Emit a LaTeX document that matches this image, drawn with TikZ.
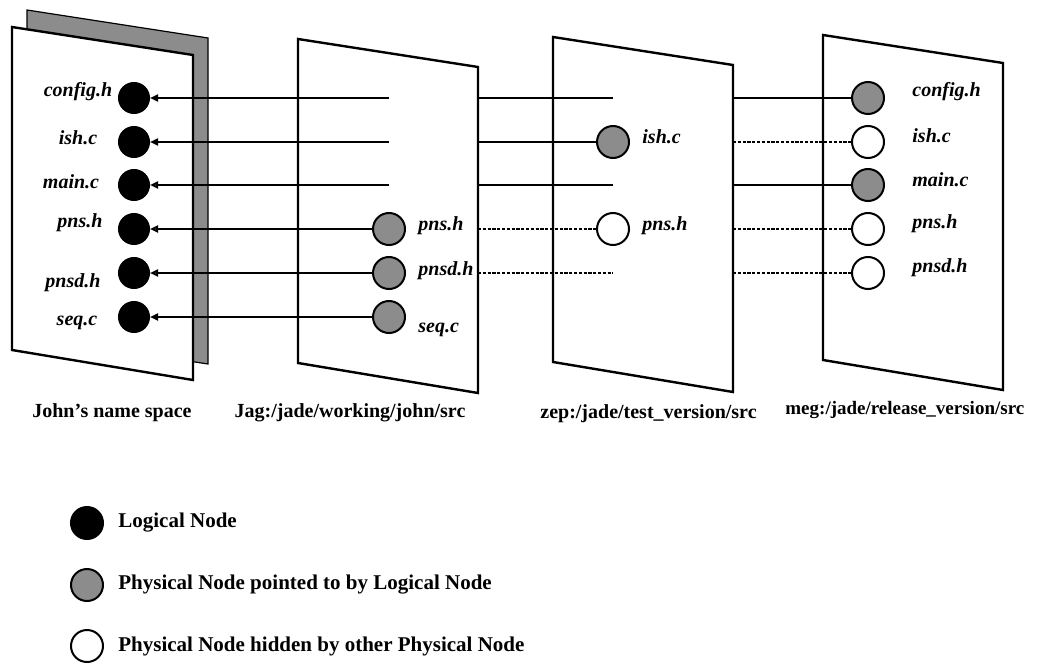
\documentclass[tikz,border=0pt]{standalone}
\usepackage{fontspec}
\setmainfont{Liberation Serif}
\usepackage{tikz}
\usetikzlibrary{arrows.meta, positioning}

\begin{document}
\begin{tikzpicture}[x=0.5pt, y=-0.5pt,
    sheet/.style  = {draw, line width=1.2pt, fill=white},
    lnode/.style  = {draw, circle, fill=black,    line width=1pt, inner sep=0pt, minimum size=15pt},
    pnode/.style  = {draw, circle, fill=black!45, line width=1pt, inner sep=0pt, minimum size=16pt},
    hnode/.style  = {draw, circle, fill=white,    line width=1pt, inner sep=0pt, minimum size=16pt},
    fname/.style  = {font=\fontsize{10}{12}\selectfont\bfseries\itshape, inner sep=0pt},
    place/.style  = {font=\fontsize{10}{12}\selectfont\bfseries, inner sep=0pt},
    key/.style    = {font=\fontsize{10.5}{12}\selectfont\bfseries, inner sep=0pt},
    link/.style   = {line width=1pt},
    hidden/.style = {line width=0.7pt, dash pattern=on 1.6pt off 0.8pt},
    solidtip/.style = {-{Triangle[length=4pt, width=3.5pt]}},
    opentip/.style  = {-{Triangle[open, length=4pt, width=3.5pt]}}
]

\useasboundingbox (0,0) rectangle (1063,663);

\draw [line width=0.6pt, fill=black!45] (27,10)  -- (208,38)   -- (208,364)  -- (27,336)  -- cycle;
\draw [sheet]                           (12,27)  -- (193,55)   -- (193,380)  -- (12,350)  -- cycle;
\draw [sheet]                           (298,39) -- (478,67)   -- (478,393)  -- (298,363) -- cycle;
\draw [sheet]                           (553,37) -- (733,65)   -- (733,392)  -- (553,362) -- cycle;
\draw [sheet]                           (823,35) -- (1003,63)  -- (1003,390) -- (823,360) -- cycle;

\foreach \r/\y in {1/98, 2/142, 3/185, 4/229, 5/273, 6/317} {
    \node [lnode] (a\r) at (134,\y) {};
    \coordinate (b\r)  at (389,\y);
    \coordinate (br\r) at (478,\y);
    \coordinate (c\r)  at (613,\y);
    \coordinate (cr\r) at (733,\y);
}

\node [pnode] (b4n) at (b4) {};
\node [pnode] (b5n) at (b5) {};
\node [pnode] (b6n) at (b6) {};

\node [pnode] (c2n) at (c2) {};
\node [hnode] (c4n) at (c4) {};

\node [pnode] (d1) at (868,98)  {};
\node [hnode] (d2) at (868,142) {};
\node [pnode] (d3) at (868,185) {};
\node [hnode] (d4) at (868,229) {};
\node [hnode] (d5) at (868,273) {};

\draw [link, solidtip] (b1)  -- (a1);
\draw [link, solidtip] (b2)  -- (a2);
\draw [link, opentip ] (b3)  -- (a3);
\draw [link, opentip ] (b4n) -- (a4);
\draw [link, opentip ] (b5n) -- (a5);
\draw [link, solidtip] (b6n) -- (a6);

\draw [link  ] (br1) -- (c1);
\draw [link  ] (br2) -- (c2n);
\draw [link  ] (br3) -- (c3);
\draw [hidden] (br4) -- (c4n);
\draw [hidden] (br5) -- (c5);

\draw [link  ] (cr1) -- (d1);
\draw [hidden] (cr2) -- (d2);
\draw [link  ] (cr3) -- (d3);
\draw [hidden] (cr4) -- (d4);
\draw [hidden] (cr5) -- (d5);

\node [fname] (fa1) at (78,92)  {config.h};
\node [fname] (fa2) at (78,138) {ish.c};
\node [fname] (fa3) at (71,182) {main.c};
\node [fname] (fa4) at (80,223) {pns.h};
\node [fname] (fa5) at (73,283) {pnsd.h};
\node [fname] (fa6) at (77,323) {seq.c};

\node [fname, anchor=west] (fb4) at (418,226) {pns.h};
\node [fname, anchor=west] (fb5) at (418,271) {pnsd.h};
\node [fname, anchor=west] (fb6) at (418,330) {seq.c};

\node [fname, anchor=west] (fc2) at (642,137) {ish.c};
\node [fname, anchor=west] (fc4) at (642,226) {pns.h};

\node [fname, anchor=west] (fd1) at (912,92)  {config.h};
\node [fname, anchor=west] (fd2) at (912,136) {ish.c};
\node [fname, anchor=west] (fd3) at (912,180) {main.c};
\node [fname, anchor=west] (fd4) at (912,224) {pns.h};
\node [fname, anchor=west] (fd5) at (912,268) {pnsd.h};

\node [place]                                              (pa) at (112,413) {John's name space};
\node [place]                                              (pb) at (350,413) {Jag:/jade/working/john/src};
\node [place, anchor=east]                                 (pc) at (757,414) {zep:/jade/test\_version/src};
\node [place, anchor=west, font=\fontsize{9.5}{12}\selectfont\bfseries] (pd) at (785,410) {meg:/jade/release\_version/src};

\node [lnode, minimum size=16pt] (k1) at (87,523) {};
\node [pnode                   ] (k2) at (87,585) {};
\node [hnode                   ] (k3) at (87,646) {};

\node [key, right=7pt of k1] (t1) {Logical Node};
\node [key, right=7pt of k2] (t2) {Physical Node pointed to by Logical Node};
\node [key, right=7pt of k3] (t3) {Physical Node hidden by other Physical Node};

\end{tikzpicture}
\end{document}
